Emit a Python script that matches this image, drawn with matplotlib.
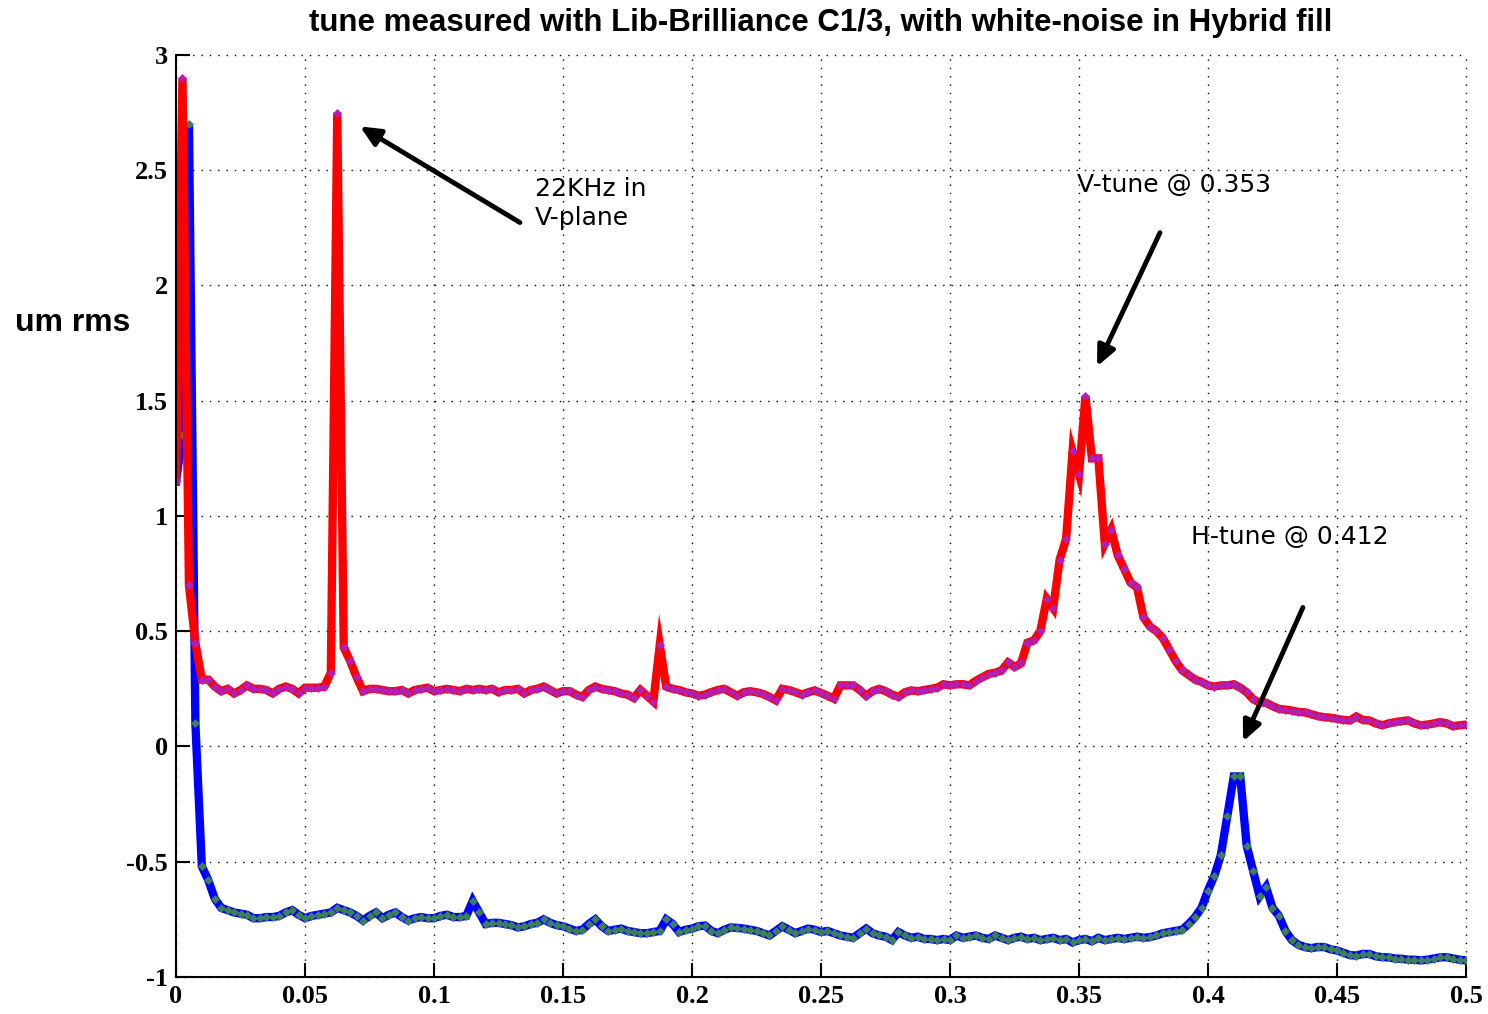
import numpy as np
import matplotlib
matplotlib.use("Agg")
import matplotlib.pyplot as plt

# fractional tune axis, one bin every 0.0025
tune = np.linspace(0.0, 0.5, 201)

# vertical plane spectrum (um rms)
v_plane = [
    1.15, 2.90, 0.70, 0.45, 0.29, 0.29, 0.26, 0.24, 0.25, 0.23,
    0.245, 0.265, 0.25, 0.25, 0.245, 0.23, 0.25, 0.26, 0.25, 0.23,
    0.255, 0.255, 0.255, 0.26, 0.32, 2.75, 0.43, 0.37, 0.30, 0.24,
    0.25, 0.25, 0.245, 0.24, 0.24, 0.245, 0.23, 0.245, 0.25, 0.255,
    0.24, 0.245, 0.25, 0.245, 0.24, 0.25, 0.245, 0.25, 0.245, 0.25,
    0.235, 0.245, 0.245, 0.25, 0.23, 0.245, 0.25, 0.26, 0.245, 0.23,
    0.24, 0.24, 0.225, 0.215, 0.245, 0.26, 0.25, 0.245, 0.24, 0.23,
    0.225, 0.21, 0.245, 0.22, 0.195, 0.44, 0.26, 0.25, 0.245, 0.235,
    0.23, 0.22, 0.225, 0.236, 0.245, 0.25, 0.235, 0.22, 0.235, 0.24,
    0.235, 0.228, 0.215, 0.20, 0.25, 0.245, 0.236, 0.225, 0.235, 0.243,
    0.232, 0.22, 0.207, 0.265, 0.265, 0.265, 0.245, 0.22, 0.24, 0.25,
    0.24, 0.225, 0.215, 0.235, 0.243, 0.24, 0.245, 0.25, 0.255, 0.27,
    0.265, 0.27, 0.27, 0.265, 0.285, 0.30, 0.315, 0.32, 0.33, 0.365,
    0.345, 0.36, 0.45, 0.46, 0.50, 0.64, 0.60, 0.81, 0.90, 1.28,
    1.18, 1.52, 1.25, 1.25, 0.88, 0.94, 0.83, 0.77, 0.71, 0.69,
    0.56, 0.52, 0.50, 0.47, 0.42, 0.37, 0.33, 0.31, 0.29, 0.28,
    0.265, 0.26, 0.265, 0.265, 0.27, 0.255, 0.235, 0.205, 0.19, 0.19,
    0.175, 0.163, 0.16, 0.156, 0.15, 0.148, 0.14, 0.132, 0.127, 0.125,
    0.12, 0.115, 0.113, 0.13, 0.115, 0.113, 0.10, 0.092, 0.10, 0.106,
    0.11, 0.113, 0.10, 0.092, 0.095, 0.10, 0.106, 0.10, 0.088, 0.092,
    0.095,
]

# horizontal plane spectrum, shifted down by 1 um for display
h_plane = [
    1.15, 1.35, 2.70, 0.10, -0.52, -0.58, -0.66, -0.70, -0.71, -0.72,
    -0.725, -0.73, -0.745, -0.745, -0.74, -0.74, -0.735, -0.72, -0.71, -0.73,
    -0.745, -0.735, -0.73, -0.725, -0.72, -0.70, -0.71, -0.72, -0.735, -0.755,
    -0.735, -0.72, -0.745, -0.73, -0.72, -0.74, -0.755, -0.745, -0.74, -0.745,
    -0.745, -0.735, -0.73, -0.74, -0.74, -0.735, -0.67, -0.72, -0.77, -0.765,
    -0.765, -0.77, -0.775, -0.785, -0.78, -0.77, -0.765, -0.75, -0.765, -0.775,
    -0.78, -0.79, -0.80, -0.795, -0.77, -0.75, -0.78, -0.80, -0.795, -0.79,
    -0.80, -0.805, -0.81, -0.81, -0.805, -0.80, -0.75, -0.77, -0.805, -0.795,
    -0.79, -0.78, -0.777, -0.80, -0.81, -0.795, -0.785, -0.787, -0.79, -0.795,
    -0.80, -0.81, -0.82, -0.80, -0.78, -0.795, -0.81, -0.80, -0.79, -0.795,
    -0.805, -0.80, -0.81, -0.82, -0.825, -0.83, -0.81, -0.79, -0.81, -0.82,
    -0.825, -0.84, -0.805, -0.82, -0.83, -0.825, -0.835, -0.835, -0.84, -0.835,
    -0.84, -0.82, -0.83, -0.825, -0.82, -0.83, -0.835, -0.82, -0.83, -0.84,
    -0.83, -0.825, -0.835, -0.83, -0.84, -0.835, -0.83, -0.84, -0.835, -0.85,
    -0.84, -0.835, -0.845, -0.83, -0.84, -0.835, -0.83, -0.835, -0.83, -0.825,
    -0.83, -0.827, -0.82, -0.81, -0.805, -0.80, -0.795, -0.77, -0.74, -0.70,
    -0.625, -0.56, -0.47, -0.30, -0.13, -0.13, -0.43, -0.54, -0.65, -0.61,
    -0.70, -0.735, -0.80, -0.84, -0.86, -0.87, -0.875, -0.87, -0.87, -0.88,
    -0.885, -0.895, -0.905, -0.907, -0.90, -0.90, -0.91, -0.914, -0.915, -0.92,
    -0.921, -0.925, -0.925, -0.928, -0.925, -0.92, -0.915, -0.914, -0.92, -0.925,
    -0.928,
]

x_ticks = [0, 0.05, 0.1, 0.15, 0.2, 0.25, 0.3, 0.35, 0.4, 0.45, 0.5]
x_tick_labels = ["0", "0.05", "0.1", "0.15", "0.2", "0.25", "0.3", "0.35", "0.4", "0.45", "0.5"]
y_ticks = [-1, -0.5, 0, 0.5, 1, 1.5, 2, 2.5, 3]
y_tick_labels = ["-1", "-0.5", "0", "0.5", "1", "1.5", "2", "2.5", "3"]


def plot_tune_spectrum():
    fig = plt.figure(figsize=(14.88, 10.14), dpi=100)
    ax = fig.add_axes([0.1183, 0.0365, 0.8669, 0.9093])

    ax.plot(tune, h_plane, color="#0000ff", lw=6, marker="D", ms=4.5,
            mfc="#3d7f5c", mec="#3d7f5c", mew=0.5, solid_joinstyle="miter")
    ax.plot(tune, v_plane, color="#ff0000", lw=6, marker="D", ms=4.5,
            mfc="#b020b8", mec="#b020b8", mew=0.5, solid_joinstyle="miter")

    ax.set_xlim(0, 0.5)
    ax.set_ylim(-1, 3)
    ax.set_xticks(x_ticks)
    ax.set_xticklabels(x_tick_labels)
    ax.set_yticks(y_ticks)
    ax.set_yticklabels(y_tick_labels)
    for lab in ax.get_xticklabels() + ax.get_yticklabels():
        lab.set_family("Liberation Serif")
        lab.set_weight("bold")
        lab.set_fontsize(19)
    ax.tick_params(direction="in", length=10, width=1.5, pad=6)

    ax.spines["top"].set_visible(False)
    ax.spines["right"].set_visible(False)
    ax.spines["left"].set_linewidth(1.5)
    ax.spines["bottom"].set_linewidth(1.5)
    ax.grid(True, color="black", linestyle=(0, (1, 5)), linewidth=1.0)
    for gl in ax.get_xgridlines() + ax.get_ygridlines():
        gl.set_clip_on(False)

    ax.set_title("tune measured with Lib-Brilliance C1/3, with white-noise in Hybrid fill",
                 family="Liberation Sans", weight="bold", fontsize=22.5, pad=17)
    fig.text(15 / 1488, 1 - 323 / 1014, "um rms", family="Liberation Sans",
             weight="bold", fontsize=23, va="center", ha="left")

    arrow = dict(arrowstyle="-|>,head_length=1.2,head_width=0.55", color="black",
                 lw=3.5, shrinkA=0, shrinkB=0)
    ax.annotate("", xy=(0.0713, 2.69), xytext=(0.1333, 2.273), arrowprops=arrow)
    ax.annotate("", xy=(0.3570, 1.649), xytext=(0.3814, 2.229), arrowprops=arrow)
    ax.annotate("", xy=(0.4136, 0.022), xytext=(0.4368, 0.603), arrowprops=arrow)

    ax.text(0.1391, 2.47, "22KHz in\nV-plane", family="DejaVu Sans", fontsize=18,
            va="top", ha="left", linespacing=1.25)
    ax.text(0.3492, 2.49, "V-tune @ 0.353", family="DejaVu Sans", fontsize=18,
            va="top", ha="left")
    ax.text(0.3934, 0.96, "H-tune @ 0.412", family="DejaVu Sans", fontsize=18,
            va="top", ha="left")

    fig.savefig("out.png", dpi=100)
    plt.close(fig)


if __name__ == "__main__":
    plot_tune_spectrum()
